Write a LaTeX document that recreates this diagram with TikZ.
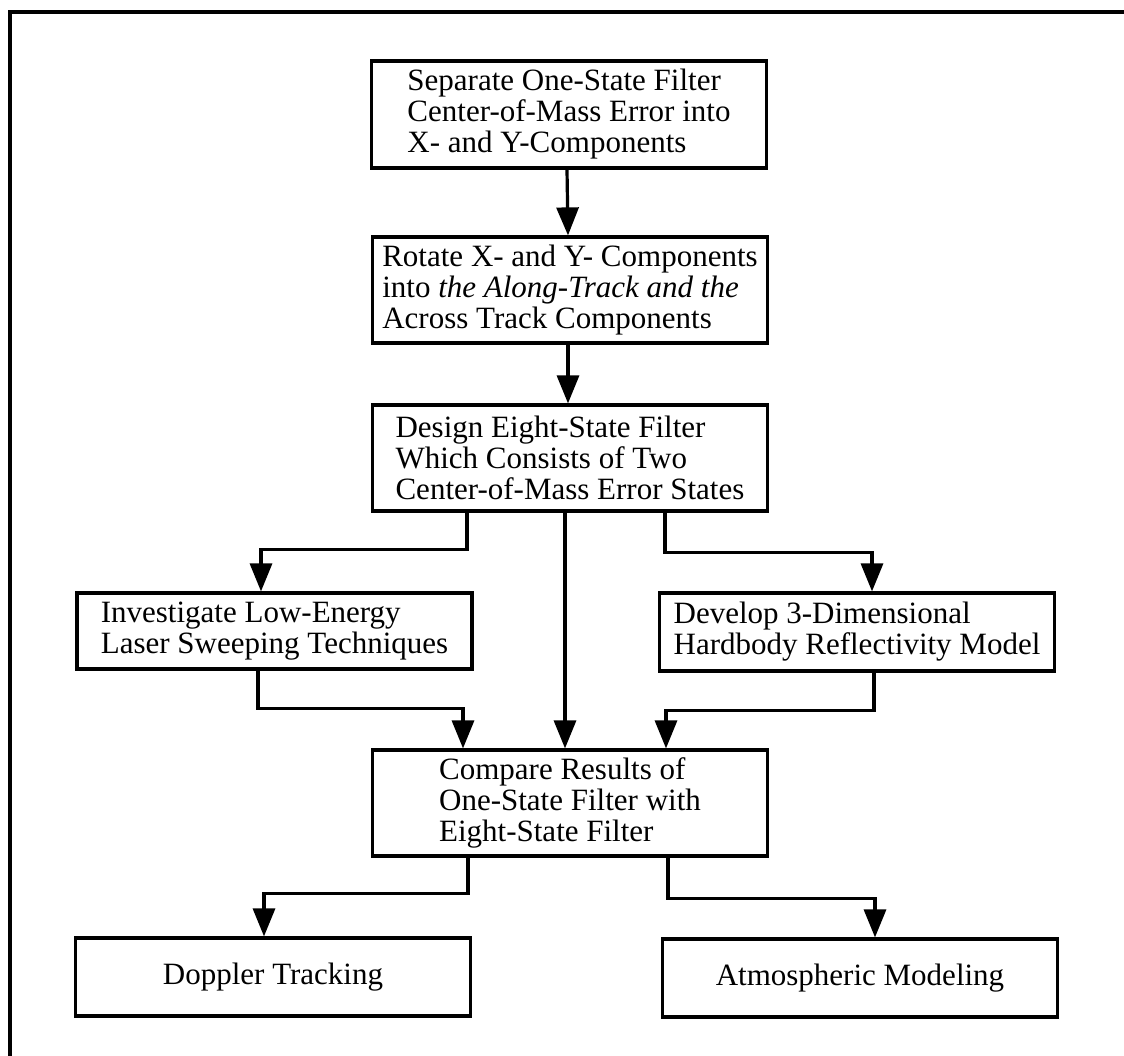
\documentclass[tikz,border=0pt]{standalone}
\usepackage{fontspec}
\setmainfont{Liberation Serif}
\usetikzlibrary{arrows.meta}

\tikzset{every picture/.style={line width=1.6pt}}
\tikzset{
  procbox/.style={draw, minimum width=197.5pt, align=left, inner sep=0pt,
    font=\fontsize{15.5}{15.5}\selectfont},
  flow/.style={-{Triangle[length=14pt,width=11pt]}},
}

\begin{document}
\begin{tikzpicture}[x=0.5pt,y=0.5pt,yscale=-1,xscale=1]
\useasboundingbox (0,0) rectangle (1124,1055);

%Frame (runs off the page on the right and at the bottom)
\draw (1130,12) -- (10,12) -- (10,1062);

%Flowchart: Process
\node[procbox, minimum height=53.5pt] (sep) at (569,114.5) {Separate One-State Filter\\Center-of-Mass Error into\\X- and Y-Components};
%Flowchart: Process
\node[procbox, minimum height=53pt] (rot) at (570,290) {Rotate X- and Y- Components\\into \textit{the Along-Track and the}\\Across Track Components};
%Flowchart: Process
\node[procbox, minimum height=53pt] (design) at (570,458) {Design Eight-State Filter\\Which Consists of Two\\Center-of-Mass Error States};
%Flowchart: Process
\node[procbox, minimum height=38pt] (invest) at (274.5,631) {Investigate Low-Energy\\Laser Sweeping Techniques};
%Flowchart: Process
\node[procbox, minimum height=39pt] (develop) at (857,632) {Develop 3-Dimensional\\Hardbody Reflectivity Model};
%Flowchart: Process
\node[procbox, minimum height=53pt] (compare) at (570,803) {Compare Results of\\One-State Filter with\\Eight-State Filter};
%Flowchart: Process
\node[procbox, minimum height=39pt] (doppler) at (273,977) {Doppler Tracking};
%Flowchart: Process
\node[procbox, minimum height=39pt] (atmos) at (860,978) {Atmospheric Modeling};

%Connectors
\draw[flow] ([xshift=-1pt]sep.south) -- ([xshift=-1pt]rot.north);
\draw[flow] ([xshift=-1pt]rot.south) -- ([xshift=-1pt]design.north);
\draw[flow] ([xshift=-51.5pt]design.south) -- ++(0,37) -| ([xshift=-6.75pt]invest.north);
\draw[flow] ([xshift=-2.5pt]design.south) -- ([xshift=-2.5pt]compare.north);
\draw[flow] ([xshift=47.5pt]design.south) -- ++(0,40) -| ([xshift=7.5pt]develop.north);
\draw[flow] ([xshift=-8.25pt]invest.south) -- ++(0,38) -| ([xshift=-53.5pt]compare.north);
\draw[flow] ([xshift=8.5pt]develop.south) -- ++(0,38) -| ([xshift=48pt]compare.north);
\draw[flow] ([xshift=-51pt]compare.south) -- ++(0,36) -| ([xshift=-4.5pt]doppler.north);
\draw[flow] ([xshift=49pt]compare.south) -- ++(0,41) -| ([xshift=7.5pt]atmos.north);

\end{tikzpicture}
\end{document}
